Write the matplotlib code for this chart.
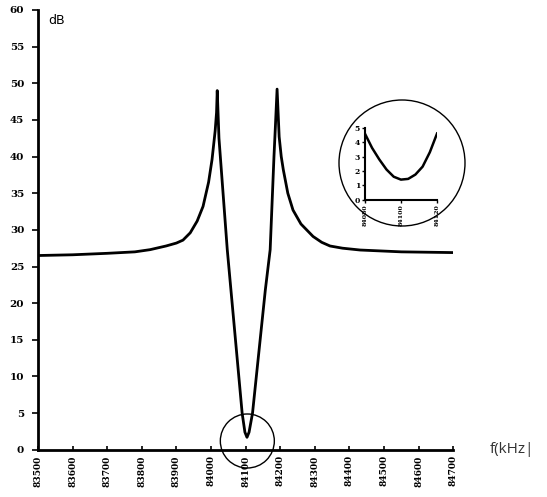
import matplotlib
matplotlib.use("Agg")
import matplotlib.pyplot as plt
import matplotlib.patches as mpatches
import matplotlib.transforms as mtransforms

# attenuation curve
freq = [83500, 83600, 83700, 83780, 83824, 83870, 83900, 83919, 83940, 83960,
        83977, 83993, 84003, 84012, 84016, 84018, 84023, 84047, 84090, 84098,
        84104, 84110, 84120, 84157, 84171, 84182, 84186, 84191, 84197, 84203,
        84209, 84222, 84237, 84260, 84295, 84320, 84344, 84380, 84431, 84550,
        84700]
dB = [26.5, 26.6, 26.8, 27.0, 27.3, 27.8, 28.2, 28.6, 29.6, 31.2,
      33.2, 36.5, 39.6, 43.5, 46.0, 49.0, 42.5, 27.3, 5.0, 2.4,
      1.7, 2.4, 5.0, 21.8, 27.3, 40.0, 44.0, 49.2, 42.7, 40.0,
      38.2, 35.0, 32.7, 30.8, 29.1, 28.3, 27.8, 27.5, 27.25, 27.0,
      26.9]

# zoomed minimum (inset)
inset_freq = [84080, 84084, 84088, 84092, 84096, 84100, 84104, 84108, 84112, 84116, 84120]
inset_dB = [4.6, 3.6, 2.8, 2.1, 1.6, 1.4, 1.45, 1.75, 2.3, 3.3, 4.6]

xticks = list(range(83500, 84701, 100))
yticks = list(range(0, 61, 5))
inset_xticks = [84080, 84100, 84120]
inset_yticks = [0, 1, 2, 3, 4, 5]

tick_font = dict(family="DejaVu Serif", weight="bold")

fig = plt.figure(figsize=(5.47, 4.97), dpi=100)
ax = fig.add_axes([0.0695, 0.095, 0.759, 0.885])
ax.plot(freq, dB, color="black", lw=2.0, solid_joinstyle="round")
ax.set_xlim(83500, 84700)
ax.set_ylim(0, 60)
for s in ["top", "right"]:
    ax.spines[s].set_visible(False)
for s in ["left", "bottom"]:
    ax.spines[s].set_linewidth(2.0)
ax.set_xticks(xticks)
ax.set_xticklabels([str(t) for t in xticks], rotation=90, fontsize=6.5, **tick_font)
ax.set_yticks(yticks)
ax.set_yticklabels([str(t) for t in yticks], fontsize=7.5, **tick_font)
ax.tick_params(axis="x", direction="in", length=3, width=1.2, pad=4)
ax.tick_params(axis="y", direction="out", length=4, width=1.2, pad=6)
ax.text(0.025, 0.99, "dB", transform=ax.transAxes, fontsize=9, ha="left", va="top",
        family="DejaVu Sans")
fig.text(0.895, 0.095, "f(kHz|", fontsize=11, color="#333333", ha="left", va="center",
         family="Open Sans")

# circle around the minimum
trans = fig.dpi_scale_trans + mtransforms.ScaledTranslation(84105, 1.2, ax.transData)
ax.add_patch(mpatches.Circle((0, 0), 0.27, transform=trans, fill=False,
                             color="black", lw=1.0, clip_on=False))

# inset with the zoomed minimum
ins = fig.add_axes([0.667, 0.598, 0.132, 0.145])
ins.patch.set_alpha(0)
ins.plot(inset_freq, inset_dB, color="black", lw=1.8)
ins.set_xlim(84080, 84120)
ins.set_ylim(0, 5)
for s in ["top", "right"]:
    ins.spines[s].set_visible(False)
for s in ["left", "bottom"]:
    ins.spines[s].set_linewidth(1.5)
ins.set_xticks(inset_xticks)
ins.set_xticklabels([str(t) for t in inset_xticks], rotation=90, fontsize=4.5, **tick_font)
ins.set_yticks(inset_yticks)
ins.set_yticklabels([str(t) for t in inset_yticks], fontsize=5.5, **tick_font)
ins.tick_params(axis="both", length=2, width=1, pad=1.5)

fig.add_artist(mpatches.Circle((4.02, 3.34), 0.63, transform=fig.dpi_scale_trans,
                               fill=False, color="black", lw=1.0))

fig.savefig("out.png", dpi=100)
